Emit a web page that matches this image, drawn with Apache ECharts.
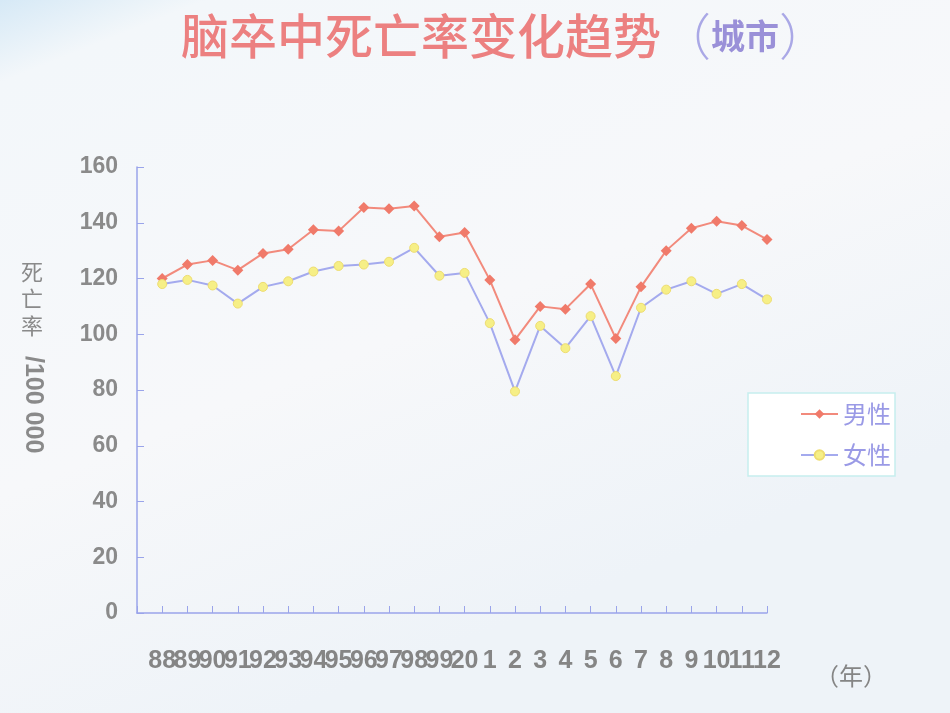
<!DOCTYPE html>
<html><head><meta charset="utf-8">
<script src="https://cdn.jsdelivr.net/npm/echarts@6/dist/echarts.min.js"></script>
<style>html,body{margin:0;padding:0;}#c{width:950px;height:713px;}</style>
</head><body><div id="c"></div>
<script>
const categories = ['88','89','90','91','92','93','94','95','96','97','98','99','20','1','2','3','4','5','6','7','8','9','10','11','12'];
const maleValues = [120,125,126.5,123,129,130.5,137.5,137,145.5,145,146,135,136.5,119.5,98,110,109,118,98.5,117,130,138,140.5,139,134];
const femaleValues = [118,119.5,117.5,111,117,119,122.5,124.5,125,126,131,121,122,104,79.5,103,95,106.5,85,109.5,116,119,114.5,118,112.5];
const yTicks = [0,20,40,60,80,100,120,140,160];
const seriesNames = ['男性','女性'];

const chart = echarts.init(document.getElementById('c'));
// first axis slot is an empty slot at the y axis, as in the original chart
const axisCats = [''].concat(categories);
const toPts = arr => arr.map((v,i)=>[i+1,v]);
chart.setOption({
  animation:false,
  backgroundColor:{type:'linear',x:0,y:0,x2:0.3,y2:1,colorStops:[
    {offset:0,color:'#d6e9f6'},{offset:0.1,color:'#f3f7fa'},{offset:0.6,color:'#f7f8fa'},{offset:1,color:'#eef3f8'}]},
  title:{
    left:176, top:6,
    text:'{a|脑卒中死亡率变化趋势}{b|（}{c|城市}{b|）}',
    textStyle:{rich:{
      a:{fontSize:48,color:'#ec8080',fontFamily:'Noto Sans CJK SC',fontWeight:500},
      b:{fontSize:50,color:'#aaa8e6',fontFamily:'Noto Sans CJK SC',fontWeight:300},
      c:{fontSize:34,color:'#9a90d8',fontFamily:'Noto Sans CJK SC',fontWeight:'bold'}
    }}
  },
  legend:{
    orient:'vertical', left:748, top:393,
    padding:[9,4,9,52], itemGap:17,
    itemWidth:37, itemHeight:12,
    backgroundColor:'#ffffff', borderColor:'#c6eeee', borderWidth:1.5,
    textStyle:{fontSize:24,color:'#9a9ae6',fontFamily:'Noto Sans CJK SC'},
    data:seriesNames
  },
  grid:{left:137, top:167, width:630, height:446},
  xAxis:{
    type:'category', data:axisCats, boundaryGap:false,
    axisLine:{show:true,onZero:false,lineStyle:{color:'#9aa4ea',width:1.5}},
    axisTick:{show:true,inside:true,length:7,interval:0,lineStyle:{color:'#9aa4ea'}},
    splitLine:{show:false},
    axisLabel:{interval:0,margin:36,fontSize:25,fontWeight:'bold',color:'#858585',
      fontFamily:'Liberation Sans Narrow, Liberation Sans, sans-serif'}
  },
  yAxis:{
    type:'value', min:yTicks[0], max:yTicks[yTicks.length-1], interval:20,
    axisLine:{show:true,onZero:false,lineStyle:{color:'#9aa4ea',width:1.5}},
    axisTick:{show:true,inside:true,length:7,lineStyle:{color:'#9aa4ea'}},
    splitLine:{show:false},
    axisLabel:{margin:19,fontSize:23,fontWeight:'bold',color:'#8a8a8a',fontFamily:'Liberation Sans, sans-serif'}
  },
  graphic:[
    {type:'text',left:21,top:258,style:{text:'死\n亡\n率',fontSize:22,lineHeight:27,fill:'#8a8a8a',fontFamily:'Noto Sans CJK SC'}},
    {type:'text',x:20,y:356,rotation:-Math.PI/2,style:{text:'/100 000',fontSize:25,fontWeight:'bold',fill:'#8a8a8a',fontFamily:'Liberation Sans, sans-serif',verticalAlign:'bottom'}},
    {type:'text',left:815,top:664,style:{text:'（年）',fontSize:24,fill:'#858585',fontFamily:'Noto Sans CJK SC'}}
  ],
  series:[
    {name:seriesNames[0],type:'line',data:toPts(maleValues),symbol:'diamond',symbolSize:11,
      lineStyle:{color:'#f28a7c',width:2},itemStyle:{color:'#f07a6a'}},
    {name:seriesNames[1],type:'line',data:toPts(femaleValues),symbol:'circle',symbolSize:9,
      lineStyle:{color:'#a4aaee',width:2},itemStyle:{color:'#f6ef86',borderColor:'#eedd70',borderWidth:1}}
  ]
});
</script></body></html>
